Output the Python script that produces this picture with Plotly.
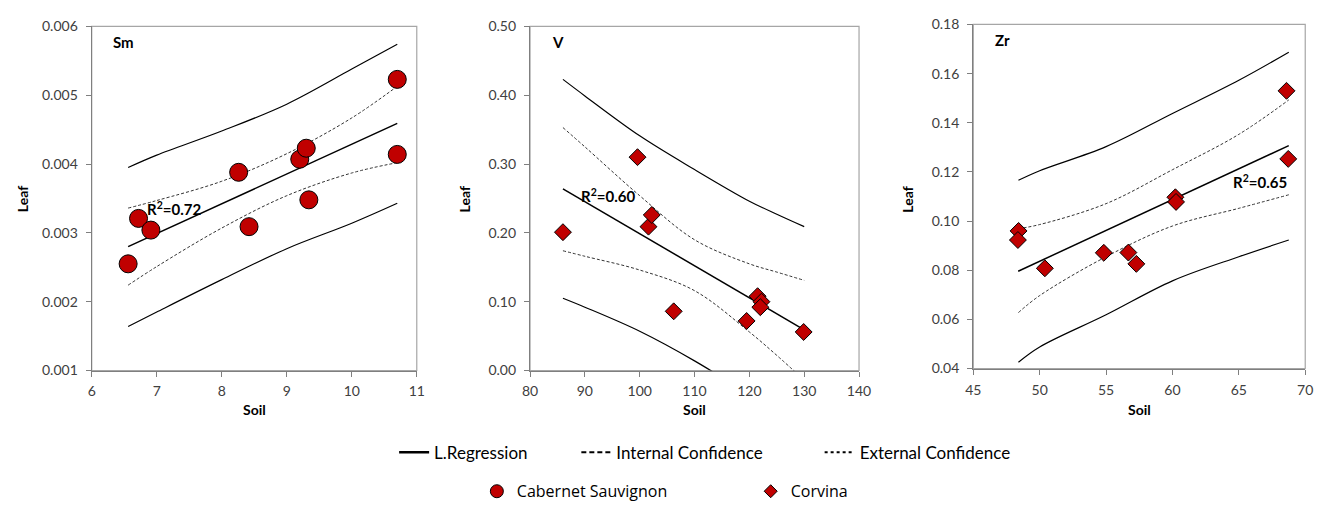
import plotly.graph_objects as go

# ---------------- data ----------------
# Sm (Cabernet Sauvignon)
sm_soil = [6.56, 6.72, 6.91, 8.26, 8.42, 9.20, 9.30, 9.34, 10.70, 10.70]
sm_leaf = [0.00255, 0.00321, 0.00304, 0.00388, 0.00309, 0.00407, 0.00423, 0.00348, 0.00523, 0.00414]
sm_reg_x = [6.56, 10.70]
sm_reg_y = [0.00280, 0.00459]
sm_band_x = [6.56, 7, 8, 9, 10, 10.70]
sm_out_up = [0.00395, 0.00413, 0.00448, 0.00487, 0.00538, 0.00574]
sm_out_lo = [0.00164, 0.00185, 0.00232, 0.00277, 0.00314, 0.00343]
sm_in_up = [0.00336, 0.00347, 0.00375, 0.00415, 0.00467, 0.00513]
sm_in_lo = [0.00224, 0.00251, 0.00307, 0.00354, 0.00387, 0.00402]

# V (Corvina)
v_soil = [86.0, 99.6, 101.6, 102.2, 106.2, 119.5, 121.5, 122.2, 122.0, 129.9]
v_leaf = [0.201, 0.310, 0.209, 0.226, 0.086, 0.072, 0.108, 0.100, 0.092, 0.056]
v_reg_x = [86, 130]
v_reg_y = [0.264, 0.059]
v_band_x = [86, 90, 100, 110, 120, 125, 130]
v_out_up = [0.423, 0.399, 0.341, 0.292, 0.246, 0.227, 0.209]
v_out_lo = [0.105, 0.092, 0.057, 0.014, -0.035, -0.060, -0.092]
v_in_up = [0.353, 0.325, 0.254, 0.190, 0.155, 0.143, 0.131]
v_in_lo = [0.174, 0.166, 0.146, 0.116, 0.056, 0.022, -0.014]

# Zr (Corvina)
zr_soil = [48.41, 48.36, 50.39, 54.83, 56.68, 57.28, 60.22, 60.27, 68.59, 68.72]
zr_leaf = [0.0960, 0.0923, 0.0808, 0.0871, 0.0872, 0.0826, 0.1097, 0.1078, 0.1530, 0.1253]
zr_reg_x = [48.38, 68.76]
zr_reg_y = [0.0796, 0.1307]
zr_band_x = [48.4, 50, 55, 60, 65, 68.76]
zr_out_up = [0.1166, 0.1205, 0.1303, 0.1438, 0.1573, 0.1687]
zr_out_lo = [0.0426, 0.0488, 0.0619, 0.0757, 0.0855, 0.0923]
zr_in_up = [0.0969, 0.0986, 0.1071, 0.1209, 0.1353, 0.1493]
zr_in_lo = [0.0628, 0.0697, 0.0855, 0.0980, 0.1052, 0.1107]

panel_names = ["Sm", "V", "Zr"]
r2_labels = ["R<sup>2</sup>=0.72", "R<sup>2</sup>=0.60", "R<sup>2</sup>=0.65"]
x_ranges = [[6, 11], [80, 140], [45, 70]]
y_ranges = [[0.001, 0.006], [0, 0.5], [0.04, 0.18]]
x_dticks = [1, 10, 5]
y_dticks = [0.001, 0.1, 0.02]
y_formats = [".3f", ".2f", ".2f"]
legend_line_labels = ["L.Regression", "Internal Confidence", "External Confidence"]
legend_marker_labels = ["Cabernet Sauvignon", "Corvina"]

# ---------------- layout geometry ----------------
W, H = 1333, 509
RED = "#C00000"
TICK_FONT = dict(family="Lato", size=14, color="#404040")
x_domains_px = [(85, 415), (530, 864), (980, 1317)]
y_domains_px = [(18, 374), (18, 374), (16, 372)]

fig = go.Figure()

panels = [
    (sm_soil, sm_leaf, sm_reg_x, sm_reg_y, sm_band_x, sm_out_up, sm_out_lo, sm_in_up, sm_in_lo, "circle", 18),
    (v_soil, v_leaf, v_reg_x, v_reg_y, v_band_x, v_out_up, v_out_lo, v_in_up, v_in_lo, "diamond", 13),
    (zr_soil, zr_leaf, zr_reg_x, zr_reg_y, zr_band_x, zr_out_up, zr_out_lo, zr_in_up, zr_in_lo, "diamond", 13),
]

for i, (sx, sy, rx, ry, bx, ou, ol, iu, il, sym, msz) in enumerate(panels):
    xa = "x" if i == 0 else f"x{i+1}"
    ya = "y" if i == 0 else f"y{i+1}"
    for band in (ou, ol):
        fig.add_trace(go.Scatter(x=bx, y=band, mode="lines", line=dict(color="black", width=1.2, shape="spline"),
                                 xaxis=xa, yaxis=ya, showlegend=False, hoverinfo="skip"))
    for band in (iu, il):
        fig.add_trace(go.Scatter(x=bx, y=band, mode="lines",
                                 line=dict(color="#333333", width=1, dash="3px,2px", shape="spline"),
                                 xaxis=xa, yaxis=ya, showlegend=False, hoverinfo="skip"))
    fig.add_trace(go.Scatter(x=rx, y=ry, mode="lines", line=dict(color="black", width=1.5),
                             xaxis=xa, yaxis=ya, showlegend=False))
    fig.add_trace(go.Scatter(x=sx, y=sy, mode="markers",
                             marker=dict(symbol=sym, size=msz, color=RED, line=dict(color="black", width=1)),
                             xaxis=xa, yaxis=ya, showlegend=False))

# ---------------- axes ----------------
for i in range(3):
    sfx = "" if i == 0 else str(i + 1)
    x0, x1 = x_domains_px[i]
    yt, yb = y_domains_px[i]
    common = dict(showline=True, linecolor="#7f7f7f", linewidth=1.3, mirror=False,
                  ticks="outside", ticklen=5, tickcolor="#7f7f7f", tickwidth=1,
                  showgrid=False, zeroline=False, tickfont=TICK_FONT, fixedrange=True)
    fig.layout["xaxis" + sfx] = dict(common, domain=[x0 / W, x1 / W], range=x_ranges[i],
                                     dtick=x_dticks[i], tick0=x_ranges[i][0], ticklabelstandoff=3,
                                     anchor="y" + sfx)
    fig.layout["yaxis" + sfx] = dict(common, domain=[(H - yb) / H, (H - yt) / H], range=y_ranges[i],
                                     dtick=y_dticks[i], tick0=y_ranges[i][0], tickformat=y_formats[i],
                                     ticklabelstandoff=5, anchor="x" + sfx)
    # light frame (top / right)
    fig.add_shape(type="rect", xref=f"x{sfx} domain", yref=f"y{sfx} domain", x0=0, x1=1, y0=0, y1=1,
                  line=dict(color="#a6a6a6", width=1.2), layer="below")
    # panel label
    fig.add_annotation(xref=f"x{sfx} domain", yref=f"y{sfx} domain", x=0.06, y=0.955,
                       text=f"<b>{panel_names[i]}</b>", showarrow=False, xanchor="left", yanchor="middle",
                       font=dict(family="Lato", size=15, color="black"))
    # axis titles
    fig.add_annotation(xref="paper", yref="paper", x=(x0 + x1) / 2 / W, y=(H - 414) / H,
                       xanchor="center", yanchor="middle",
                       text="<b>Soil</b>", showarrow=False, font=dict(family="Lato", size=14, color="black"))
    lx = [15, 463, 913][i]
    fig.add_annotation(xref="paper", yref="paper", x=lx / W, y=(H - 197) / H, textangle=-90,
                       xanchor="center", yanchor="middle",
                       text="<b>Leaf</b>", showarrow=False, font=dict(family="Lato", size=14, color="black"))

# R² labels
r2_pos = [(7.26, 0.00335), (94.3, 0.255), (66.6, 0.1163)]
for i, (px, py) in enumerate(r2_pos):
    sfx = "" if i == 0 else str(i + 1)
    fig.add_annotation(xref="x" + sfx, yref="y" + sfx, x=px, y=py, text=f"<b>{r2_labels[i]}</b>",
                       showarrow=False, font=dict(family="Lato", size=15, color="black"))

# ---------------- legends ----------------
leg_styles = [dict(color="black", width=2.5), dict(color="black", width=2, dash="5px,3px"),
              dict(color="black", width=2, dash="dot")]
leg_x_px = [392, 577, 824]
for k in range(3):
    lname = "legend" if k == 0 else f"legend{k+1}"
    fig.add_trace(go.Scatter(x=[None], y=[None], mode="lines", line=leg_styles[k], name=legend_line_labels[k],
                             legend=lname, showlegend=True))
    fig.layout[lname] = dict(x=leg_x_px[k] / W, y=(H - 459) / H, xanchor="left", yanchor="middle",
                             orientation="h", bgcolor="rgba(0,0,0,0)", borderwidth=0,
                             font=dict(family="Lato", size=17, color="black"))

mk_syms = [("circle", 13), ("diamond", 10)]
mk_x_px = [476, 754]
for k in range(2):
    lname = f"legend{k+4}"
    fig.add_trace(go.Scatter(x=[None], y=[None], mode="markers",
                             marker=dict(symbol=mk_syms[k][0], size=mk_syms[k][1], color=RED,
                                         line=dict(color="black", width=1)),
                             name=legend_marker_labels[k], legend=lname, showlegend=True))
    fig.layout[lname] = dict(x=mk_x_px[k] / W, y=(H - 499) / H, xanchor="left", yanchor="middle",
                             orientation="h", bgcolor="rgba(0,0,0,0)", borderwidth=0,
                             font=dict(family="Open Sans", size=16, color="black"))

fig.update_layout(width=W, height=H, margin=dict(l=0, r=0, t=0, b=0),
                  plot_bgcolor="white", paper_bgcolor="white", showlegend=True)

fig.write_html("out.html", post_script="document.body.style.margin='0';",
               config={"displayModeBar": False})
